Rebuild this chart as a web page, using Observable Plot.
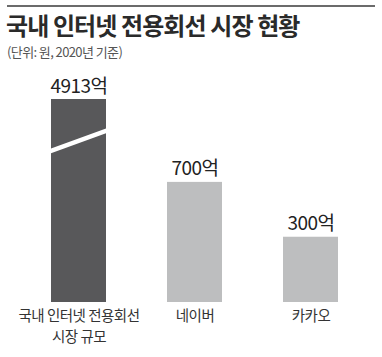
<!DOCTYPE html>
<html>
<head>
<meta charset="utf-8">
<script src="https://cdn.jsdelivr.net/npm/d3@7"></script>
<script src="https://cdn.jsdelivr.net/npm/@observablehq/plot@0.6"></script>
<style>
  html, body { margin: 0; padding: 0; background: #fff; }
  body { width: 382px; height: 357px; overflow: hidden; font-family: "Noto Sans CJK KR", "Noto Sans", sans-serif; }
  #header { position: relative; height: 60px; }
  #rule { position: absolute; left: 7px; top: 5px; width: 368px; height: 2px; background: #6b6b6b; }
  #title { position: absolute; left: 6px; top: 12px; font-size: 24px; font-weight: 700; color: #2a2a2a; letter-spacing: -0.9px; line-height: 26px; white-space: nowrap; }
  #subtitle { position: absolute; left: 7px; top: 44px; font-size: 13px; color: #555; letter-spacing: -0.6px; line-height: 15px; white-space: nowrap; }
  svg { display: block; }
</style>
</head>
<body>
<div id="header">
  <div id="rule"></div>
  <div id="title">국내 인터넷 전용회선 시장 현황</div>
  <div id="subtitle">(단위: 원, 2020년 기준)</div>
</div>
<div id="chart"></div>
<script>
const categories = ["국내 인터넷 전용회선\n시장 규모", "네이버", "카카오"];
const values = [4913, 700, 300];
const valueLabels = ["4913억", "700억", "300억"];
const barColors = ["#58585a", "#bdbebf", "#bdbebf"];
// axis break drawn on the first bar (data units on the y scale)
const breakLow = 963, breakHigh = 1145;

const data = categories.map((c, i) => ({cat: c, value: values[i], label: valueLabels[i], color: barColors[i]}));

const chart = Plot.plot({
  width: 382,
  height: 297,
  marginTop: 39,
  marginBottom: 55,
  marginLeft: 20,
  marginRight: 14,
  style: {fontFamily: '"Noto Sans CJK KR", "Noto Sans", sans-serif', background: "transparent"},
  x: {domain: categories, paddingInner: 0.526, paddingOuter: 0.263, axis: null},
  y: {type: "pow", exponent: 0.72, domain: [0, 1451], clamp: true, axis: null},
  marks: [
    Plot.barY(data, {x: "cat", y: "value", fill: "color"}),
    Plot.text(data, {x: "cat", y: "value", text: "label", lineAnchor: "bottom", dy: -7, fontSize: 19, fill: "#222"}),
    Plot.text(data, {x: "cat", text: "cat", frameAnchor: "bottom", lineAnchor: "top", dy: 3, fontSize: 14.5, lineHeight: 1.46, fill: "#333"})
  ]
});

d3.select(chart).selectAll("text").style("letter-spacing", "-0.5px");

// axis-break band on the first bar
const xs = chart.scale("x"), ys = chart.scale("y");
const x0 = xs.apply(categories[0]), bw = xs.bandwidth;
const yL = ys.apply(breakLow), yR = ys.apply(breakHigh), h = 2.3;
d3.select(chart).append("polygon")
  .attr("points", [[x0, yL - h], [x0 + bw, yR - h], [x0 + bw, yR + h], [x0, yL + h]].map(p => p.join(",")).join(" "))
  .attr("fill", "#fff");

document.getElementById("chart").appendChild(chart);
</script>
</body>
</html>
